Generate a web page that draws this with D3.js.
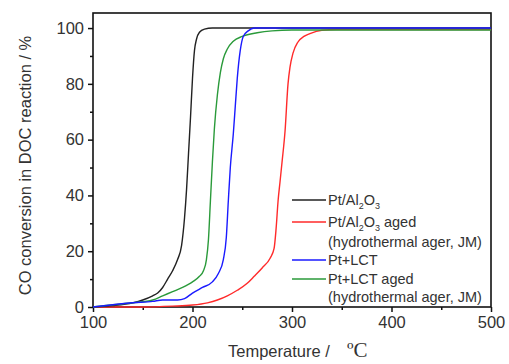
<!DOCTYPE html>
<html>
<head>
<meta charset="utf-8">
<script src="https://cdn.jsdelivr.net/npm/d3@7"></script>
<style>
  body { margin: 0; background: #fff; }
  text { font-family: "Liberation Sans", Arial, sans-serif; fill: #333; }
</style>
</head>
<body>
<svg class="chart"></svg>
<script>
let width = 509
let height = 364

// temperature (°C), conversion (%)
let ptAl = [
  [100, 0], [120, 0.5], [140, 1.5], [150, 2.5], [160, 4], [165, 5], [170, 7], [175, 10],
  [180, 13], [185, 17], [189, 22], [192, 32], [194, 42], [196, 55], [198, 68], [200, 82],
  [202, 92], [204, 96], [207, 98.5], [212, 99.6], [220, 100], [500, 100]
]
let ptAlAged = [
  [100, 0], [150, 0], [180, 0.3], [200, 0.7], [215, 1.5], [225, 2.5], [235, 4], [245, 6],
  [255, 8.5], [262, 11], [270, 14], [278, 17.5], [282, 21], [284, 28], [286, 38], [288, 45],
  [290, 52], [293, 63], [296, 80], [298, 86], [301, 91], [306, 95], [312, 97], [318, 98],
  [330, 99.2], [345, 99.5], [500, 99.5]
]
let ptLct = [
  [100, 0], [120, 0.8], [140, 1.5], [160, 2], [170, 2.5], [185, 2.5], [192, 3], [200, 5],
  [210, 7], [220, 9], [226, 12], [231, 17], [234, 25], [236, 38], [238, 50], [241, 62],
  [243, 72], [245, 82], [248, 92], [251, 97], [256, 99], [262, 100], [500, 100]
]
let ptLctAged = [
  [100, 0], [120, 0.8], [140, 1.5], [160, 2.5], [170, 4], [180, 5.5], [190, 7], [200, 9],
  [207, 11], [211, 13], [214, 17], [216, 24], [218, 38], [220, 52], [222, 64], [225, 76],
  [228, 84], [231, 89], [235, 92.5], [241, 95.3], [250, 97], [265, 98.3], [280, 99],
  [300, 99.3], [500, 99.3]
]

let seriesColors = ["#222222", "#ff2a2a", "#1a1aff", "#2a9a3a"]
let xTicks = [100, 200, 300, 400, 500]
let yTicks = [0, 20, 40, 60, 80, 100]

let margin = { top: 13, right: 18, bottom: 57, left: 93 }

let svg = d3.select(".chart")
  .attr("width", width)
  .attr("height", height)

let x = d3.scaleLinear()
  .domain([100, 500])
  .range([margin.left, width - margin.right])

let y = d3.scaleLinear()
  .domain([0, 105.4])
  .range([height - margin.bottom, margin.top])

// frame
svg.append("rect")
  .attr("x", x(100))
  .attr("y", y(105.4))
  .attr("width", x(500) - x(100))
  .attr("height", y(0) - y(105.4))
  .attr("fill", "none")
  .attr("stroke", "#111")
  .attr("stroke-width", 1.6)

// minor ticks
let xMinor = d3.range(150, 500, 100)
let yMinor = d3.range(10, 101, 20)

svg.append("g")
  .attr("transform", `translate(0, ${y(0)})`)
  .call(d3.axisBottom(x).tickValues(xMinor).tickSize(3).tickFormat(""))
  .call(g => g.select(".domain").remove())
  .selectAll("line").attr("stroke", "#111").attr("stroke-width", 1.5)

svg.append("g")
  .attr("transform", `translate(${x(100)}, 0)`)
  .call(d3.axisLeft(y).tickValues(yMinor).tickSize(3).tickFormat(""))
  .call(g => g.select(".domain").remove())
  .selectAll("line").attr("stroke", "#111").attr("stroke-width", 1.5)

// major axes
let xAxis = svg.append("g")
  .attr("transform", `translate(0, ${y(0)})`)
  .call(d3.axisBottom(x).tickValues(xTicks).tickSize(5).tickPadding(4))
xAxis.select(".domain").remove()
xAxis.selectAll("line").attr("stroke", "#111").attr("stroke-width", 1.5)
xAxis.selectAll("text")
  .style("font-size", "16.5px")
  .attr("fill", "#333")
  .attr("font-family", "Liberation Sans, Arial, sans-serif")

let yAxis = svg.append("g")
  .attr("transform", `translate(${x(100)}, 0)`)
  .call(d3.axisLeft(y).tickValues(yTicks).tickSize(5).tickPadding(4))
yAxis.select(".domain").remove()
yAxis.selectAll("line").attr("stroke", "#111").attr("stroke-width", 1.5)
yAxis.selectAll("text")
  .style("font-size", "16.5px")
  .attr("fill", "#333")
  .attr("font-family", "Liberation Sans, Arial, sans-serif")

// curves
let line = d3.line()
  .x(d => x(d[0]))
  .y(d => y(d[1]))
  .curve(d3.curveMonotoneX)

let allSeries = [ptAl, ptAlAged, ptLct, ptLctAged]
let drawOrder = [1, 0, 3, 2]

drawOrder.forEach(i => {
  svg.append("path")
    .datum(allSeries[i])
    .attr("d", line)
    .attr("fill", "none")
    .attr("stroke", seriesColors[i])
    .attr("stroke-width", 1.4)
})

// legend
let legendRows = [
  { name: 0, y: 200 },
  { name: 1, y: 222 },
  { name: 2, y: 260 },
  { name: 3, y: 279 }
]
let legend = svg.append("g")

legendRows.forEach(r => {
  legend.append("line")
    .attr("x1", 292).attr("x2", 326)
    .attr("y1", r.y).attr("y2", r.y)
    .attr("stroke", seriesColors[r.name])
    .attr("stroke-width", 1.5)
})

function chemLabel(t, yPos, base, aged) {
  let txt = legend.append("text")
    .attr("x", 328).attr("y", yPos + 5)
    .style("font-size", "14.5px")
  if (base === "Al") {
    txt.append("tspan").text("Pt/Al")
    txt.append("tspan").text("2").attr("dy", 4).style("font-size", "9px")
    txt.append("tspan").text("O").attr("dy", -4)
    txt.append("tspan").text("3").attr("dy", 4).style("font-size", "9px")
    if (aged) txt.append("tspan").text(" aged").attr("dy", -4)
  } else {
    txt.text(t)
  }
}

chemLabel("", 200, "Al", false)
chemLabel("", 222, "Al", true)
legend.append("text").attr("x", 328).attr("y", 247).style("font-size", "14.5px")
  .text("(hydrothermal ager, JM)")
chemLabel("Pt+LCT", 260, "LCT", false)
chemLabel("Pt+LCT aged", 279, "LCT", true)
legend.append("text").attr("x", 328).attr("y", 302).style("font-size", "14.5px")
  .text("(hydrothermal ager, JM)")

// axis titles
let xt = svg.append("text")
  .attr("x", 228)
  .attr("y", 357)
  .style("font-size", "16.5px")
xt.append("tspan").text("Temperature / ")
xt.append("tspan").text("ºC")
  .attr("x", 347)
  .style("font-family", "Liberation Serif, Times New Roman, serif")
  .style("font-size", "21px")

svg.append("text")
  .attr("transform", `translate(31, ${(y(0) + y(100)) / 2 - 2}) rotate(-90)`)
  .attr("text-anchor", "middle")
  .style("font-size", "16.5px")
  .text("CO conversion in DOC reaction / %")
</script>
</body>
</html>
